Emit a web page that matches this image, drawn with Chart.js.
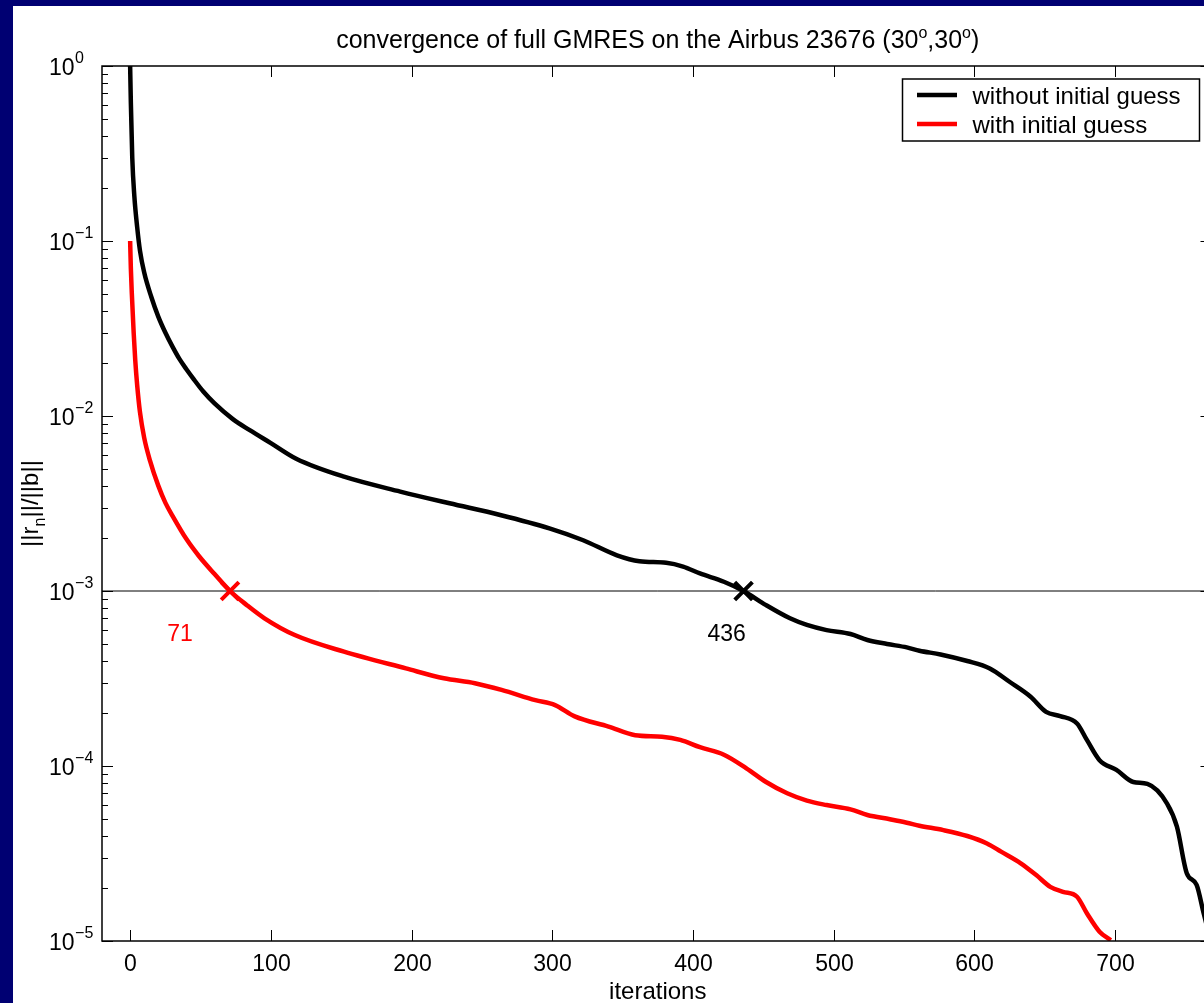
<!DOCTYPE html>
<html>
<head>
<meta charset="utf-8">
<script src="https://cdn.jsdelivr.net/npm/chart.js@4.4.1/dist/chart.umd.min.js"></script>
<style>
  html, body { margin: 0; padding: 0; background: #000072; overflow: hidden; width: 1204px; height: 1003px; }
  canvas { display: block; }
</style>
</head>
<body>
<canvas id="graficoGmres" width="1240" height="1003"></canvas>
<script>
// iteraciones / residuo relativo, sin vector inicial
var sinIter = [0, 0.5, 1.5, 3, 5, 7, 10, 15, 20, 25, 30, 35, 40, 45, 52, 60, 73, 85, 100, 118, 152, 192, 227, 263, 298, 322, 346, 362, 381, 393, 405, 422, 436, 452, 469, 481, 495, 512, 524, 538, 552, 561, 576, 595, 611, 625, 640, 651, 661, 673, 680, 689, 701, 713, 723, 737, 744, 751, 758, 763, 768];
var sinRes = [1.0, 0.62, 0.30, 0.18, 0.12, 0.088, 0.066, 0.048, 0.037, 0.030, 0.025, 0.0212, 0.0185, 0.0163, 0.0138, 0.0118, 0.0096, 0.0083, 0.0070, 0.0057, 0.0045, 0.0037, 0.00317, 0.00272, 0.00228, 0.00195, 0.0016, 0.00148, 0.00145, 0.00138, 0.00126, 0.00113, 0.001, 0.00083, 0.000698, 0.00064, 0.000598, 0.000568, 0.000525, 0.000498, 0.000476, 0.000456, 0.000434, 0.000398, 0.000361, 0.000303, 0.000249, 0.000204, 0.000193, 0.000175, 0.000141, 0.000108, 0.000095, 0.000081, 0.000079, 0.000061, 0.000045, 0.0000244, 0.0000209, 0.0000144, 0.0000100];

// con vector inicial
var conIter = [0, 0.5, 1.2, 2.5, 3.6, 5, 7, 10, 14, 20, 25, 30, 40, 49, 60, 71, 83, 95.5, 117, 152, 196, 223, 245, 264, 288, 302, 316, 340, 359, 378, 391, 405, 422, 438, 452, 467, 481, 495, 512, 524, 540, 552, 561, 578, 595, 609, 619, 633, 644, 654, 663, 673, 680, 689, 697];
var conRes = [0.1, 0.07, 0.050, 0.030, 0.021, 0.015, 0.0105, 0.0075, 0.0056, 0.0040, 0.0032, 0.0027, 0.00198, 0.00158, 0.00125, 0.001, 0.00083, 0.000698, 0.00056, 0.00045, 0.000361, 0.000317, 0.000297, 0.000272, 0.000238, 0.000223, 0.000192, 0.000168, 0.00015, 0.000147, 0.000141, 0.000128, 0.000116, 0.000097, 0.000081, 0.0000698, 0.0000634, 0.0000598, 0.0000565, 0.0000525, 0.0000496, 0.0000474, 0.0000456, 0.000043, 0.0000398, 0.0000361, 0.0000324, 0.0000278, 0.0000238, 0.0000204, 0.0000191, 0.0000179, 0.0000144, 0.0000113, 0.0000101];

// tolerancia y puntos de cruce
var tolIter = [-20, 770];
var tolRes = [1e-3, 1e-3];
var cruceIter = [71, 436];
var cruceRes = [1e-3, 1e-3];
var cruceColores = ["#ff0000", "#000000"];

var ticksX = [0, 100, 200, 300, 400, 500, 600, 700];
var expY = [0, -1, -2, -3, -4, -5];

var fuente = "'Liberation Sans', Arial, Helvetica, sans-serif";

function puntos(xs, ys) {
  return xs.map(function (v, i) { return { x: v, y: ys[i] }; });
}

function linea(ctx, x1, y1, x2, y2) {
  ctx.beginPath();
  ctx.moveTo(x1, y1);
  ctx.lineTo(x2, y2);
  ctx.stroke();
}

var ejesMatlab = {
  id: "ejesMatlab",
  beforeDraw: function (chart) {
    var ctx = chart.ctx;
    ctx.save();
    ctx.fillStyle = "#000072";
    ctx.fillRect(0, 0, chart.width, chart.height);
    ctx.fillStyle = "#ffffff";
    ctx.fillRect(13, 6, chart.width - 13, chart.height - 6);
    ctx.restore();
  },
  afterDraw: function (chart) {
    var ctx = chart.ctx;
    var a = chart.chartArea;
    var sx = chart.scales.x;
    var sy = chart.scales.y;
    ctx.save();

    // marco
    ctx.strokeStyle = "#000";
    ctx.lineWidth = 1.5;
    ctx.strokeRect(a.left, a.top, a.right - a.left, a.bottom - a.top);

    // ticks x
    ctx.lineWidth = 1;
    ctx.fillStyle = "#000";
    ctx.font = "23px " + fuente;
    ctx.textAlign = "center";
    ctx.textBaseline = "alphabetic";
    ticksX.forEach(function (v) {
      var px = Math.round(sx.getPixelForValue(v)) + 0.5;
      linea(ctx, px, a.bottom, px, a.bottom - 11);
      linea(ctx, px, a.top, px, a.top + 11);
      ctx.fillText(String(v), px, 971);
    });

    // ticks y (mayores y menores)
    expY.forEach(function (e) {
      var py = Math.round(sy.getPixelForValue(Math.pow(10, e))) + 0.5;
      linea(ctx, a.left, py, a.left + 11, py);
      linea(ctx, a.right, py, a.right - 13, py);
      if (e > -5) {
        for (var m = 2; m <= 9; m++) {
          var pm = Math.round(sy.getPixelForValue(m * Math.pow(10, e - 1))) + 0.5;
          linea(ctx, a.left, pm, a.left + 6, pm);
          linea(ctx, a.right, pm, a.right - 6, pm);
        }
      }
      ctx.textAlign = "left";
      ctx.font = "23px " + fuente;
      ctx.fillText("10", 49, py + 8.5);
      var w = ctx.measureText("10").width;
      ctx.font = "16px " + fuente;
      ctx.fillText(e === 0 ? "0" : "\u2212" + (-e), 49 + w + 0.5, py - 4);
    });

    // titulo
    var partes = [
      ["convergence of full GMRES on the Airbus 23676 (30", 25, 0],
      ["o", 16, -10],
      [",30", 25, 0],
      ["o", 16, -10],
      [")", 25, 0]
    ];
    var total = 0;
    partes.forEach(function (p) { ctx.font = p[1] + "px " + fuente; total += ctx.measureText(p[0]).width; });
    var cx = (a.left + a.right) / 2 - total / 2;
    ctx.textAlign = "left";
    partes.forEach(function (p) {
      ctx.font = p[1] + "px " + fuente;
      ctx.fillText(p[0], cx, 48 + p[2]);
      cx += ctx.measureText(p[0]).width;
    });

    // etiqueta x
    ctx.font = "24px " + fuente;
    ctx.textAlign = "center";
    ctx.fillText("iterations", (a.left + a.right) / 2, 999);

    // etiqueta y con subindice
    ctx.save();
    ctx.translate(38, (a.top + a.bottom) / 2);
    ctx.rotate(-Math.PI / 2);
    ctx.textAlign = "left";
    var yPartes = [["||r", 24, 0], ["n", 16, 7], ["||/||b||", 24, 0]];
    var yTotal = 0;
    yPartes.forEach(function (p) { ctx.font = p[1] + "px " + fuente; yTotal += ctx.measureText(p[0]).width; });
    var ux = -yTotal / 2;
    yPartes.forEach(function (p) {
      ctx.font = p[1] + "px " + fuente;
      ctx.fillText(p[0], ux, p[2]);
      ux += ctx.measureText(p[0]).width;
    });
    ctx.restore();

    // numeros de iteracion junto a los cruces
    var desplaz = [-50, -17];
    ctx.font = "23px " + fuente;
    ctx.textAlign = "center";
    cruceIter.forEach(function (v, i) {
      ctx.fillStyle = cruceColores[i];
      ctx.fillText(String(v), sx.getPixelForValue(v) + desplaz[i], 641);
    });

    // leyenda
    ctx.fillStyle = "#fff";
    ctx.fillRect(902.5, 79, 297, 62);
    ctx.strokeStyle = "#000";
    ctx.lineWidth = 1.5;
    ctx.strokeRect(902.5, 79, 297, 62);
    var items = chart.data.datasets.slice(0, 2);
    items.forEach(function (ds, i) {
      var ly = 95 + i * 29;
      ctx.strokeStyle = ds.borderColor;
      ctx.lineWidth = 4.5;
      linea(ctx, 917, ly, 957, ly);
      ctx.fillStyle = "#000";
      ctx.font = "24px " + fuente;
      ctx.textAlign = "left";
      ctx.fillText(ds.label, 972.5, ly + 9.3);
    });

    ctx.restore();
  }
};

var configGmres = {
  type: "line",
  data: {
    datasets: [
      {
        label: "without initial guess",
        data: puntos(sinIter, sinRes),
        borderColor: "#000000",
        borderWidth: 4.5,
        pointRadius: 0,
        cubicInterpolationMode: "monotone",
        order: 1
      },
      {
        label: "with initial guess",
        data: puntos(conIter, conRes),
        borderColor: "#ff0000",
        borderWidth: 4.5,
        pointRadius: 0,
        cubicInterpolationMode: "monotone",
        order: 1
      },
      {
        label: "tolerancia",
        data: puntos(tolIter, tolRes),
        borderColor: "#000000",
        borderWidth: 1,
        pointRadius: 0,
        order: 2
      },
      {
        label: "cruces",
        data: puntos(cruceIter, cruceRes),
        showLine: false,
        pointStyle: "crossRot",
        pointRadius: 12.5,
        pointBorderWidth: 4,
        pointBorderColor: cruceColores,
        borderColor: cruceColores,
        order: 0
      }
    ]
  },
  options: {
    responsive: false,
    animation: false,
    devicePixelRatio: 1,
    layout: { padding: { left: 102, top: 66, right: 26.5, bottom: 62 } },
    plugins: { legend: { display: false }, title: { display: false }, tooltip: { enabled: false } },
    scales: {
      x: { type: "linear", min: -20, max: 770, display: false },
      y: { type: "logarithmic", min: 1e-5, max: 1, display: false }
    }
  },
  plugins: [ejesMatlab]
};

var graficoGmres = new Chart(document.getElementById("graficoGmres"), configGmres);
</script>
</body>
</html>
